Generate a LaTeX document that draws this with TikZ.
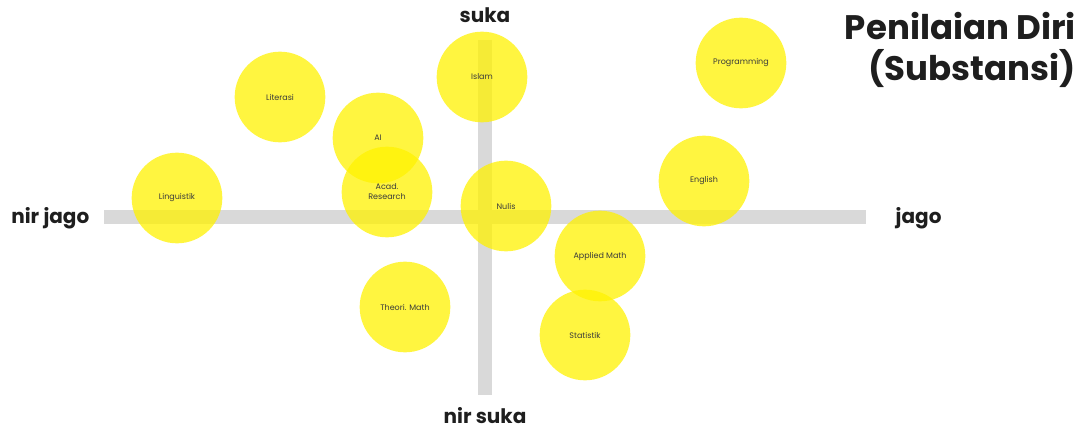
\documentclass[tikz,border=0pt]{standalone}
\usepackage{fontspec}
\setmainfont{Poppins}
\usepackage{tikz}
\definecolor{axisgray}{HTML}{D9D9D9}
\definecolor{inkgray}{HTML}{1E1E1E}
\definecolor{blobtext}{HTML}{3A3A3A}

\begin{document}
\begin{tikzpicture}[x=0.75pt, y=-0.75pt,
    blob/.style={circle, fill=yellow, fill opacity=.75, text opacity=1, text=blobtext,
                 minimum size=68pt, inner sep=0pt, align=center,
                 font=\fontsize{6}{7.5}\selectfont},
    axislabel/.style={text=inkgray, font=\fontsize{15}{17}\selectfont\bfseries},
    axisbar/.style={axisgray, line width=10.5pt}]

    \useasboundingbox (0,0) rectangle (1079,431);

    % sumbu
    \coordinate (xl) at (104,217); \coordinate (xr) at (866,217);
    \coordinate (yt) at (485,40); \coordinate (yb) at (485,395);
    \draw[axisbar] (xl) -- (xr);
    \draw[axisbar] (yt) -- (yb);

    \node[axislabel, anchor=east] (nirjago) at (94,218) {nir jago};
    \node[axislabel, anchor=west] (jago) at (891,218) {jago};
    \node[axislabel] (suka) at (485,15) {suka};
    \node[axislabel] (nirsuka) at (485,416) {nir suka};

    % judul
    \node[anchor=north east, align=right, text=inkgray, inner sep=0pt,
          font=\fontsize{25.5}{31}\selectfont\bfseries] (judul) at (1076,12) {Penilaian Diri\\(Substansi)};

    % gelembung
    \node[blob] (islam) at (482,77) {Islam};
    \node[blob] (prog) at (741,63) {Programming};
    \node[blob] (literasi) at (280,97) {Literasi};
    \node[blob] (ai) at (378,138) {AI};
    \node[blob] (acad) at (387,192) {Acad.\\Research};
    \node[blob] (ling) at (177,198) {Linguistik};
    \node[blob] (nulis) at (506,206) {Nulis};
    \node[blob] (english) at (704,181) {English};
    \node[blob] (apmath) at (600,256) {Applied Math};
    \node[blob] (thmath) at (405,307) {Theori. Math};
    \node[blob] (stat) at (585,335) {Statistik};

\end{tikzpicture}
\end{document}
